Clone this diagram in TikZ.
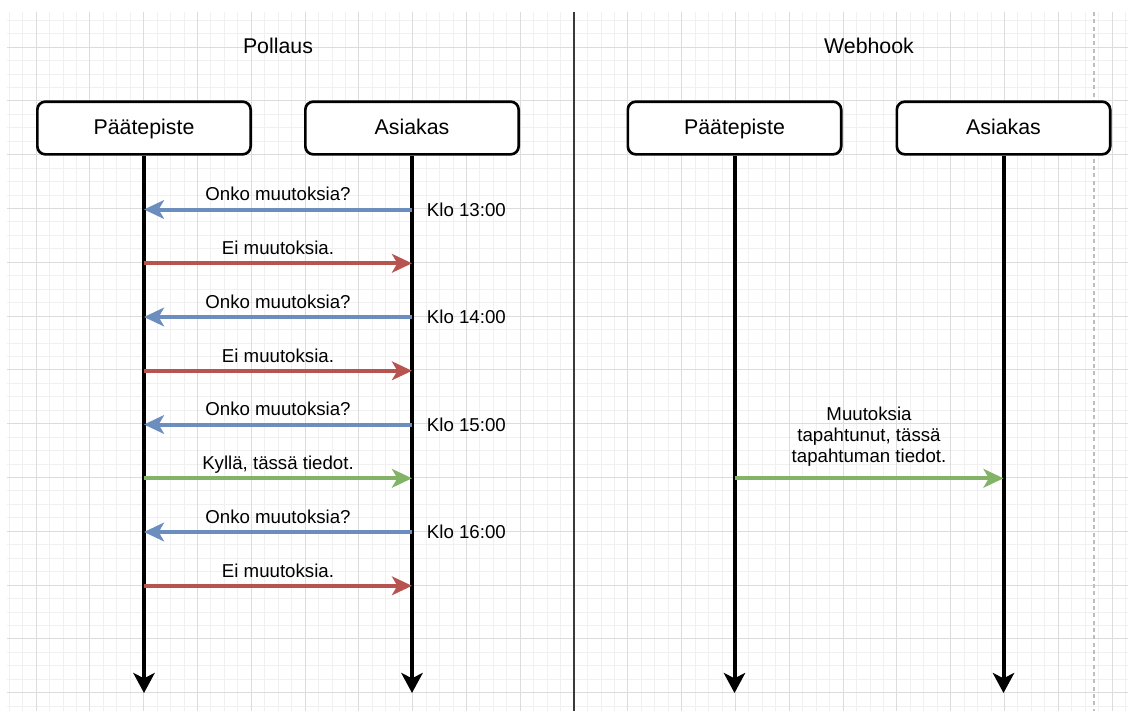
\documentclass[tikz,border=0pt]{standalone}
\usepackage{fontspec}
\setmainfont{Liberation Sans}
\usepackage{tikz}
\usetikzlibrary{arrows.meta, positioning}
\definecolor{plBlue}{HTML}{6C8EBF}
\definecolor{plRed}{HTML}{B85450}
\definecolor{plGreen}{HTML}{82B366}
\definecolor{plGridMin}{HTML}{F0F0F0}
\definecolor{plGridMaj}{HTML}{DCDCDC}
\definecolor{plPage}{HTML}{BEBEBE}
\definecolor{plDiv}{HTML}{3A3A3A}

\begin{document}
\begin{tikzpicture}[
  x=0.75pt, y=-0.75pt,
  box/.style={draw, line width=2pt, rounded corners=6pt, fill=white,
              minimum width=160pt, minimum height=39.5pt,
              text height=12pt, text depth=2.2pt,
              font=\fontsize{16}{19}\selectfont},
  ttl/.style={font=\fontsize{16}{19}\selectfont, anchor=base},
  life/.style={line width=3pt, -{Stealth[length=15pt, width=16pt, inset=4pt]}},
  msg/.style={line width=3pt, color=#1, -{Stealth[length=15pt, width=14pt, inset=4pt]}},
  lbl/.style={font=\fontsize{14}{15.75}\selectfont, text=black, inner sep=0pt,
              text depth=0pt, align=center, above=5pt},
  klo/.style={font=\fontsize{14}{16}\selectfont, inner sep=0pt},
  gmin/.style={draw=plGridMin, line width=0.6pt},
  gmaj/.style={draw=plGridMaj, line width=0.6pt}
]
  \useasboundingbox (0,0) rectangle (1128,711);
  \fill[white] (0,0) rectangle (1128,711);

  % grid
  \foreach \i in {0,...,83} \draw[gmin] ({9.1+\i*13.45},12) -- ({9.1+\i*13.45},711);
  \foreach \i in {0,...,51} \draw[gmin] (7,{20.1+\i*13.45}) -- (1128,{20.1+\i*13.45});
  \foreach \i in {0,...,20} \draw[gmaj] ({36+\i*53.8},12) -- ({36+\i*53.8},711);
  \foreach \i in {0,...,12} \draw[gmaj] (7,{47+\i*53.8}) -- (1128,{47+\i*53.8});

  % page break and divider
  \coordinate (pg1) at (1094,12);
  \coordinate (pg2) at (1094,711);
  \draw[plPage, line width=1.5pt, dash pattern=on 3pt off 2.5pt] (pg1) -- (pg2);
  \coordinate (d1) at (574,12);
  \coordinate (d2) at (574,711);
  \draw[plDiv, line width=1pt] (d1) -- (d2);

  % titles
  \node[ttl] (t1) at (278,53) {Pollaus};
  \node[ttl] (t2) at (869,53) {Webhook};

  % participants
  \node[box] (p1) at (144,128) {Päätepiste};
  \node[box] (a1) at (412,128) {Asiakas};
  \node[box] (p2) at (734.5,128) {Päätepiste};
  \node[box] (a2) at (1003.5,128) {Asiakas};

  \coordinate (p1e) at (144,693);
  \coordinate (a1e) at (412,693);
  \coordinate (p2e) at (734.5,693);
  \coordinate (a2e) at (1003.5,693);
  \draw[life] (p1) -- (p1e);
  \draw[life] (a1) -- (a1e);
  \draw[life] (p2) -- (p2e);
  \draw[life] (a2) -- (a2e);

  % polling
  \coordinate (m1) at (412,209.5);
  \coordinate (m2) at (412,263.3);
  \coordinate (m3) at (412,317);
  \coordinate (m4) at (412,370.8);
  \coordinate (m5) at (412,424.5);
  \coordinate (m6) at (412,478.3);
  \coordinate (m7) at (412,532);
  \coordinate (m8) at (412,585.8);

  \draw[msg=plBlue] (m1) -- (p1e |- m1) node[midway, lbl] (q1) {Onko muutoksia?};
  \draw[msg=plRed] (p1e |- m2) -- (m2) node[midway, lbl] (q2) {Ei muutoksia.};
  \draw[msg=plBlue] (m3) -- (p1e |- m3) node[midway, lbl] (q3) {Onko muutoksia?};
  \draw[msg=plRed] (p1e |- m4) -- (m4) node[midway, lbl] (q4) {Ei muutoksia.};
  \draw[msg=plBlue] (m5) -- (p1e |- m5) node[midway, lbl] (q5) {Onko muutoksia?};
  \draw[msg=plGreen] (p1e |- m6) -- (m6) node[midway, lbl] (q6) {Kyllä, tässä tiedot.};
  \draw[msg=plBlue] (m7) -- (p1e |- m7) node[midway, lbl] (q7) {Onko muutoksia?};
  \draw[msg=plRed] (p1e |- m8) -- (m8) node[midway, lbl] (q8) {Ei muutoksia.};

  \node[klo, right=11pt of m1] (k1) {Klo 13:00};
  \node[klo, right=11pt of m3] (k2) {Klo 14:00};
  \node[klo, right=11pt of m5] (k3) {Klo 15:00};
  \node[klo, right=11pt of m7] (k4) {Klo 16:00};

  % webhook
  \coordinate (m9) at (734.5,478.3);
  \draw[msg=plGreen] (m9) -- (a2e |- m9) node[midway, lbl, above=10pt] (q9) {Muutoksia\\tapahtunut, tässä\\tapahtuman tiedot.};
\end{tikzpicture}
\end{document}
